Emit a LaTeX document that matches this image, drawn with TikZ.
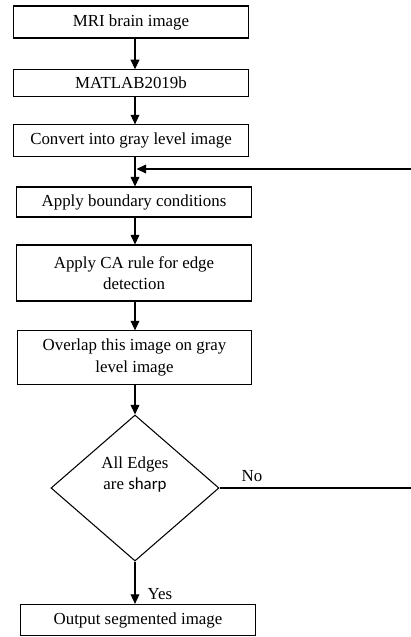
\documentclass[tikz,border=0pt]{standalone}
\usepackage{fontspec}
\setmainfont{Liberation Serif}
\newfontfamily\carlito{Carlito}
\usepackage{tikz}
\usetikzlibrary{arrows.meta,positioning,calc,shapes.geometric}

\begin{document}
\begin{tikzpicture}[
    x=0.025cm, y=-0.025cm,
    box/.style={draw, line width=0.75pt, minimum width=5.85cm, inner sep=1pt, align=center, font=\fontsize{12}{15}\selectfont},
    decision/.style={draw, diamond, line width=0.75pt, minimum width=4.2cm, minimum height=3.65cm, inner sep=0pt, align=center, font=\fontsize{12}{15}\selectfont},
    arr/.style={line width=0.75pt, -{Triangle[length=2.4mm, width=2.2mm]}},
    lbl/.style={font=\fontsize{12}{14}\selectfont}
]
\useasboundingbox (0,0) rectangle (411,637);

% Main steps
\node[box, minimum height=0.8cm] (mri) at (131, 22) {MRI brain image};
\node[box, minimum height=0.66cm] (matlab) at (131, 83) {MATLAB2019b};
\node[box, minimum height=0.78cm] (gray) at (131, 140.5) {Convert into gray level image};
\node[box, minimum height=0.75cm] (bound) at (134, 202) {Apply boundary conditions};
\node[box, minimum height=1.4cm] (carule) at (134, 273) {Apply CA rule for edge\\detection};
\node[box, minimum height=1.33cm] (overlap) at (134.5, 357.5) {Overlap this image on gray\\level image};

% Decision
\node[decision] (sharp) at (135, 488) {All Edges\\are {\carlito sharp}\\[6pt]};
\node[box, minimum height=0.78cm] (out) at (138, 620) {Output segmented image};

% Arrows down
\draw[arr] (mri.south -| sharp) -- (matlab.north -| sharp);
\draw[arr] (matlab.south -| sharp) -- (gray.north -| sharp);
\draw[arr] (gray.south -| sharp) -- (bound.north -| sharp);
\draw[arr] (bound.south -| sharp) -- (carule.north -| sharp);
\draw[arr] (carule.south -| sharp) -- (overlap.north -| sharp);
\draw[arr] (overlap.south -| sharp) -- (sharp.north);
\draw[arr] (sharp.south) -- (out.north -| sharp);
\node[lbl] (yes) at (160, 594) {Yes};

% Feedback loop
\coordinate (noend) at (420, 488);
\coordinate (fbj) at (136.5, 169);
\draw[arr] (sharp.east) -- (noend) |- (fbj);
\node[lbl] (no) at (252, 476) {No};
\end{tikzpicture}
\end{document}
